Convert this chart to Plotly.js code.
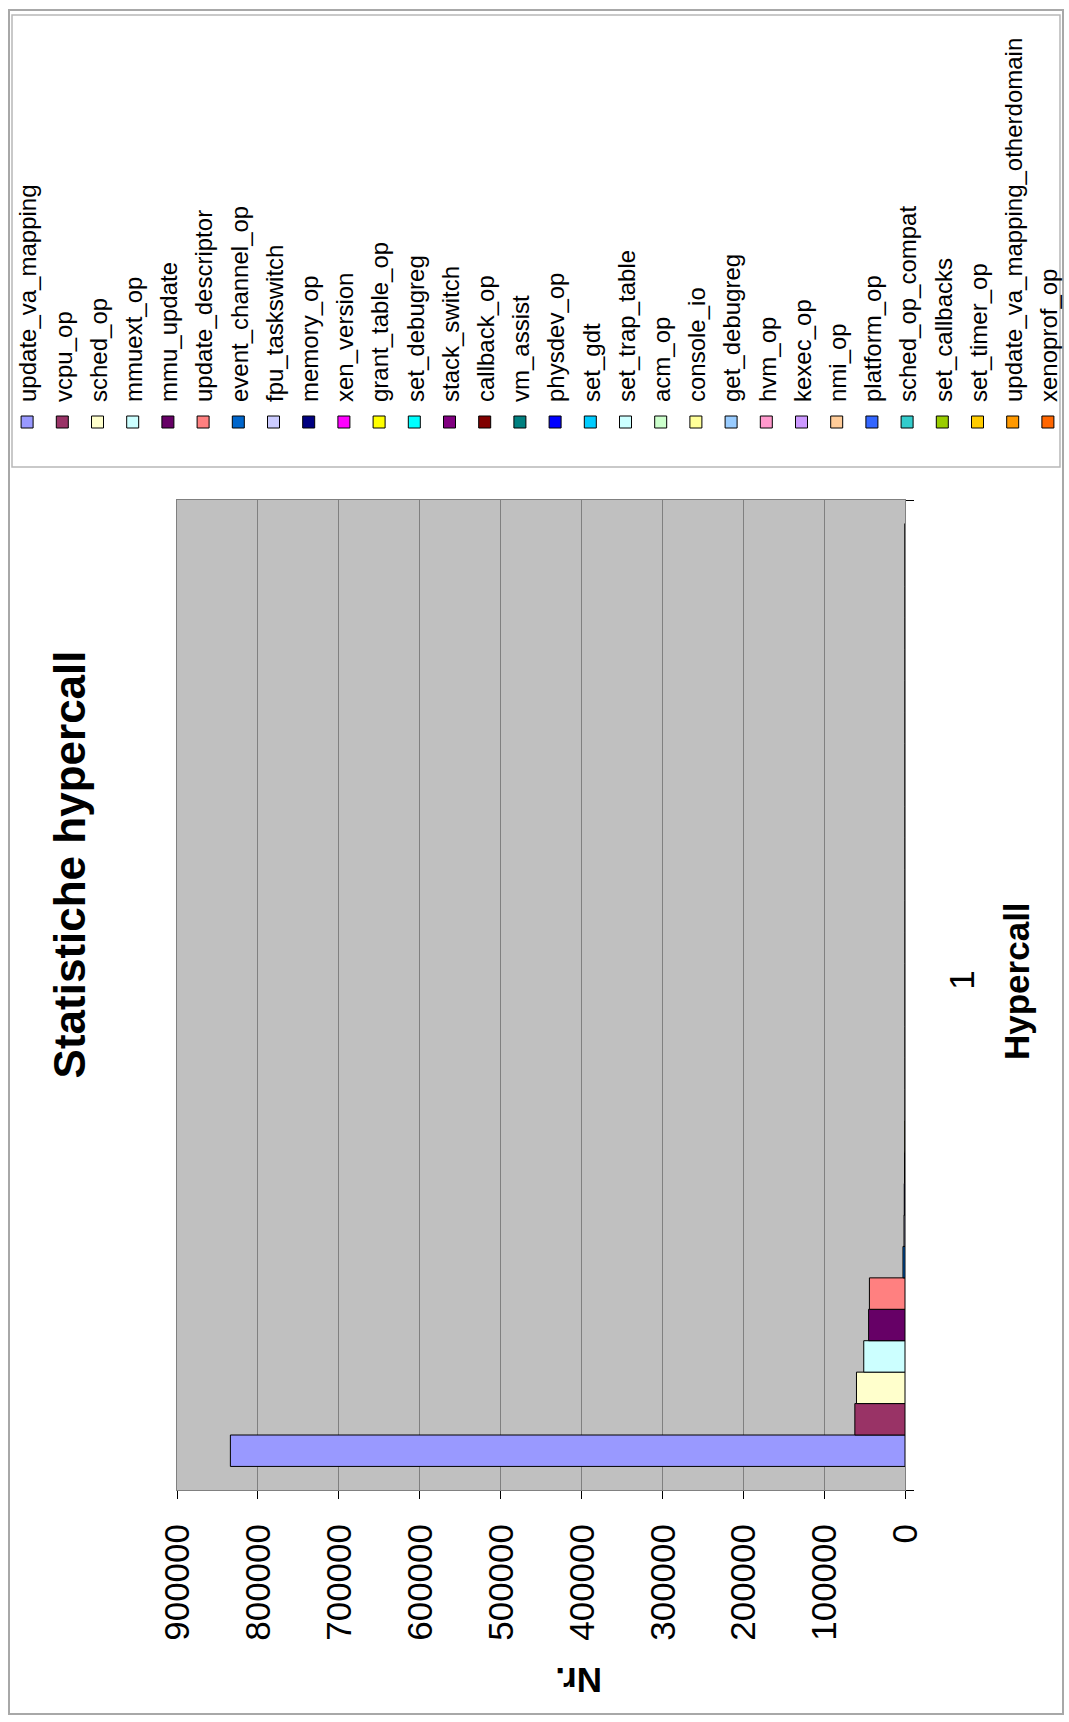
<!DOCTYPE html>
<html>
<head>
<meta charset="utf-8">
<script src="https://cdn.plot.ly/plotly-3.0.1.min.js"></script>
<style>
  html, body { margin: 0; padding: 0; background: #ffffff; overflow: hidden; }
  #page { position: relative; width: 1069px; height: 1722px; overflow: hidden; background: #ffffff; }
  /* the chart is laid out in landscape and turned a quarter turn counter-clockwise */
  #chart {
    position: absolute; left: 0; top: 0;
    width: 1722px; height: 1069px;
    transform-origin: 0 0;
    transform: translateY(1722px) rotate(-90deg);
  }
</style>
</head>
<body>
<div id="page"><div id="chart"></div></div>
<script>
// Hypercall counts, one bar per hypercall type, all in category "1"
const categories = ['1'];

const seriesNames = [
  'update_va_mapping', 'vcpu_op', 'sched_op', 'mmuext_op', 'mmu_update',
  'update_descriptor', 'event_channel_op', 'fpu_taskswitch', 'memory_op', 'xen_version',
  'grant_table_op', 'set_debugreg', 'stack_switch', 'callback_op', 'vm_assist',
  'physdev_op', 'set_gdt', 'set_trap_table', 'acm_op', 'console_io',
  'get_debugreg', 'hvm_op', 'kexec_op', 'nmi_op', 'platform_op',
  'sched_op_compat', 'set_callbacks', 'set_timer_op', 'update_va_mapping_otherdomain', 'xenoprof_op'
];

const seriesValues = [
  834000, 62000, 60000, 51000, 45000,
  44000, 2500, 1200, 900, 600,
  300, 0, 0, 0, 0,
  0, 0, 0, 0, 0,
  0, 0, 0, 0, 0,
  0, 0, 0, 0, 0
];

const seriesColors = [
  '#9999FF', '#993366', '#FFFFCC', '#CCFFFF', '#660066',
  '#FF8080', '#0066CC', '#CCCCFF', '#000080', '#FF00FF',
  '#FFFF00', '#00FFFF', '#800080', '#800000', '#008080',
  '#0000FF', '#00CCFF', '#CCFFFF', '#CCFFCC', '#FFFF99',
  '#99CCFF', '#FF99CC', '#CC99FF', '#FFCC99', '#3366FF',
  '#33CCCC', '#99CC00', '#FFCC00', '#FF9900', '#FF6600'
];

const valueTicks = [0, 100000, 200000, 300000, 400000, 500000, 600000, 700000, 800000, 900000];

const chartTitle = 'Statistiche hypercall';
const categoryTitle = 'Hypercall';
const valueTitle = 'Nr.';

const FONT = '"Liberation Sans", Arial, Helvetica, sans-serif';

const traces = seriesNames.map((name, i) => ({
  type: 'bar',
  name: name,
  x: categories,
  y: [seriesValues[i]],
  legendgroup: 'g' + i,
  marker: { color: seriesColors[i], line: { color: '#000000', width: 1 } },
  hoverinfo: 'name+y'
}));

// plot-area geometry in landscape pixels, used for paper-referenced frames and labels
const W = 1722, H = 1069;
const L = 232, R = 1222, T = 177, B = 905;
const px = X => (X - L) / (R - L);
const py = Y => (B - Y) / (B - T);

const layout = {
  width: W,
  height: H,
  margin: { l: L, r: W - R, t: T, b: H - B, autoexpand: false },
  paper_bgcolor: '#ffffff',
  plot_bgcolor: '#C0C0C0',
  font: { family: FONT, color: '#000000', size: 35 },
  barmode: 'group',
  bargap: 1.5 / 31.5,
  bargroupgap: 0,
  showlegend: true,
  title: {
    text: chartTitle,
    font: { family: FONT, size: 44, weight: 'bold', color: '#000000' },
    xref: 'container', x: 0.498, xanchor: 'center',
    yref: 'container', y: 1 - 70 / H, yanchor: 'middle'
  },
  xaxis: {
    type: 'category',
    range: [-0.5, 0.5],
    tickson: 'boundaries',
    ticks: 'outside', ticklen: 8, tickcolor: '#000000', tickwidth: 1,
    showline: true, linecolor: '#808080', linewidth: 1, mirror: true,
    showgrid: false, zeroline: false,
    tickfont: { family: FONT, size: 35, color: '#000000' },
    ticklabelstandoff: 26,
    ticklabelshift: 15,
    fixedrange: true
  },
  yaxis: {
    range: [0, 900000],
    tickvals: valueTicks,
    tickformat: 'd',
    ticks: 'outside', ticklen: 8, tickcolor: '#000000', tickwidth: 1,
    showline: true, linecolor: '#808080', linewidth: 1, mirror: true,
    showgrid: true, gridcolor: '#808080', gridwidth: 1,
    zeroline: false,
    tickfont: { family: FONT, size: 35, color: '#000000' },
    ticklabelstandoff: 18,
    fixedrange: true
  },
  annotations: [
    // category axis title
    { text: categoryTitle, xref: 'paper', yref: 'paper',
      x: px(741), y: py(1017), xanchor: 'center', yanchor: 'middle',
      showarrow: false, font: { family: FONT, size: 35, weight: 'bold', color: '#000000' } },
    // value axis title
    { text: valueTitle, xref: 'paper', yref: 'paper',
      x: px(41), y: py(579), xanchor: 'center', yanchor: 'middle', textangle: -90,
      showarrow: false, font: { family: FONT, size: 35, weight: 'bold', color: '#000000' } }
  ],
  legend: {
    x: px(1280), xanchor: 'left',
    y: py(5), yanchor: 'top',
    font: { family: FONT, size: 24, color: '#000000' },
    tracegroupgap: 1,
    bgcolor: 'rgba(0,0,0,0)',
    borderwidth: 0,
    maxheight: 1100,
    itemclick: false, itemdoubleclick: false
  },
  shapes: [
    // outer chart frame
    { type: 'rect', xref: 'paper', yref: 'paper', layer: 'below',
      x0: px(8), x1: px(1712), y0: py(1063), y1: py(9),
      line: { color: '#a8a8a8', width: 2 }, fillcolor: 'rgba(0,0,0,0)' },
    // legend frame
    { type: 'rect', xref: 'paper', yref: 'paper', layer: 'below',
      x0: px(1255), x1: px(1707), y0: py(1060), y1: py(12),
      line: { color: '#b8b8b8', width: 1.5 }, fillcolor: 'rgba(0,0,0,0)' }
  ]
};

Plotly.newPlot('chart', traces, layout, { staticPlot: true, displayModeBar: false });
</script>
</body>
</html>
